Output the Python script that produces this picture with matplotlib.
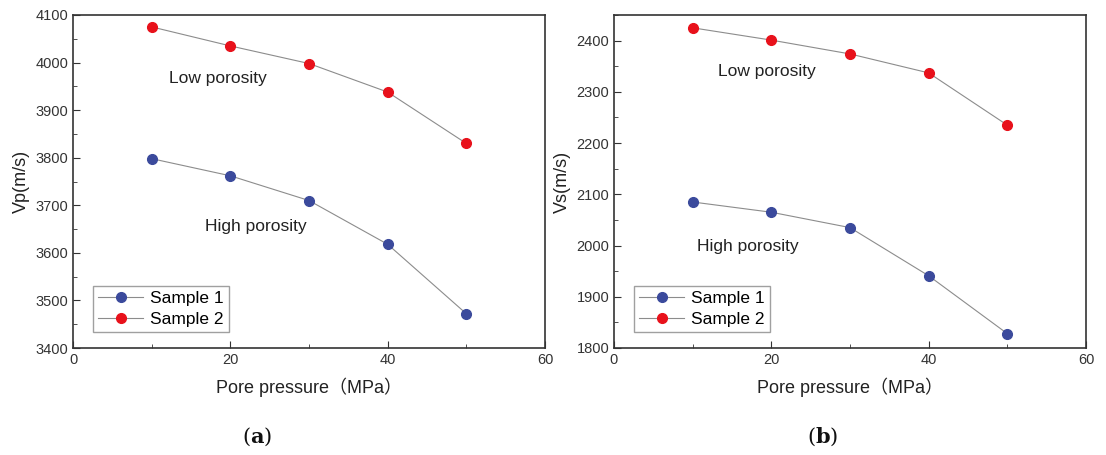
import matplotlib
matplotlib.use("Agg")
import matplotlib.pyplot as plt
from matplotlib.ticker import MultipleLocator

plt.rcParams['font.family'] = ['Liberation Sans', 'Noto Sans CJK SC', 'DejaVu Sans']
plt.rcParams['mathtext.fontset'] = 'dejavuserif'

pressure = [10, 20, 30, 40, 50]
vp_sample1 = [3798, 3762, 3710, 3618, 3472]
vp_sample2 = [4075, 4035, 3998, 3938, 3830]
vs_sample1 = [2085, 2065, 2035, 1941, 1828]
vs_sample2 = [2425, 2401, 2374, 2337, 2235]

blue = "#3b4a9c"
red = "#e8111b"
line_col = "#8c8c8c"

fig = plt.figure(figsize=(11.06, 4.55), dpi=100)
ax1 = fig.add_axes([73/1106, 1-348/455, 472/1106, 333/455])
ax2 = fig.add_axes([614/1106, 1-348/455, 472/1106, 333/455])

def style(ax, ylim, ymaj, ylabel):
    ax.set_xlim(0, 60)
    ax.set_ylim(*ylim)
    ax.xaxis.set_major_locator(MultipleLocator(20))
    ax.xaxis.set_minor_locator(MultipleLocator(10))
    ax.yaxis.set_major_locator(MultipleLocator(ymaj))
    ax.yaxis.set_minor_locator(MultipleLocator(ymaj/2))
    ax.tick_params(which='both', direction='in', top=False, right=False, labelsize=10.5, colors='#333333')
    ax.tick_params(which='major', length=5)
    ax.tick_params(which='minor', length=3)
    for s in ax.spines.values():
        s.set_color('#333333')
        s.set_linewidth(1.2)
    ax.set_xlabel("Pore pressure（MPa）", fontsize=13, color='#222222', labelpad=8)
    ax.set_ylabel(ylabel, fontsize=13, color='#222222', labelpad=4)

ax1.plot(pressure, vp_sample1, '-o', color=line_col, lw=0.8, mfc=blue, mec=blue, ms=7, label='Sample 1')
ax1.plot(pressure, vp_sample2, '-o', color=line_col, lw=0.8, mfc=red, mec=red, ms=7, label='Sample 2')
style(ax1, (3400, 4100), 100, "Vp(m/s)")
ax1.text(18.4, 3967, "Low porosity", fontsize=12.5, ha='center', va='center', color='#222222')
ax1.text(23.3, 3656, "High porosity", fontsize=12.5, ha='center', va='center', color='#222222')

ax2.plot(pressure, vs_sample1, '-o', color=line_col, lw=0.8, mfc=blue, mec=blue, ms=7, label='Sample 1')
ax2.plot(pressure, vs_sample2, '-o', color=line_col, lw=0.8, mfc=red, mec=red, ms=7, label='Sample 2')
style(ax2, (1800, 2450), 100, "Vs(m/s)")
ax2.text(19.4, 2340, "Low porosity", fontsize=12.5, ha='center', va='center', color='#222222')
ax2.text(17.0, 1998, "High porosity", fontsize=12.5, ha='center', va='center', color='#222222')

for ax in (ax1, ax2):
    leg = ax.legend(loc='lower left', bbox_to_anchor=(0.042, 0.048), fontsize=12.5, frameon=True,
                    fancybox=False, borderpad=0.3, handlelength=2.6, handletextpad=0.4,
                    labelspacing=0.3, borderaxespad=0)
    leg.get_frame().set_edgecolor('#888888')
    leg.get_frame().set_linewidth(1.0)

fig.text(257/1106, 1-437/455, r"($\mathbf{a}$)", fontsize=15, ha='center', va='center',
         family=['DejaVu Serif'], color='#111111')
fig.text(823/1106, 1-437/455, r"($\mathbf{b}$)", fontsize=15, ha='center', va='center',
         family=['DejaVu Serif'], color='#111111')

fig.savefig("out.png", dpi=100)
